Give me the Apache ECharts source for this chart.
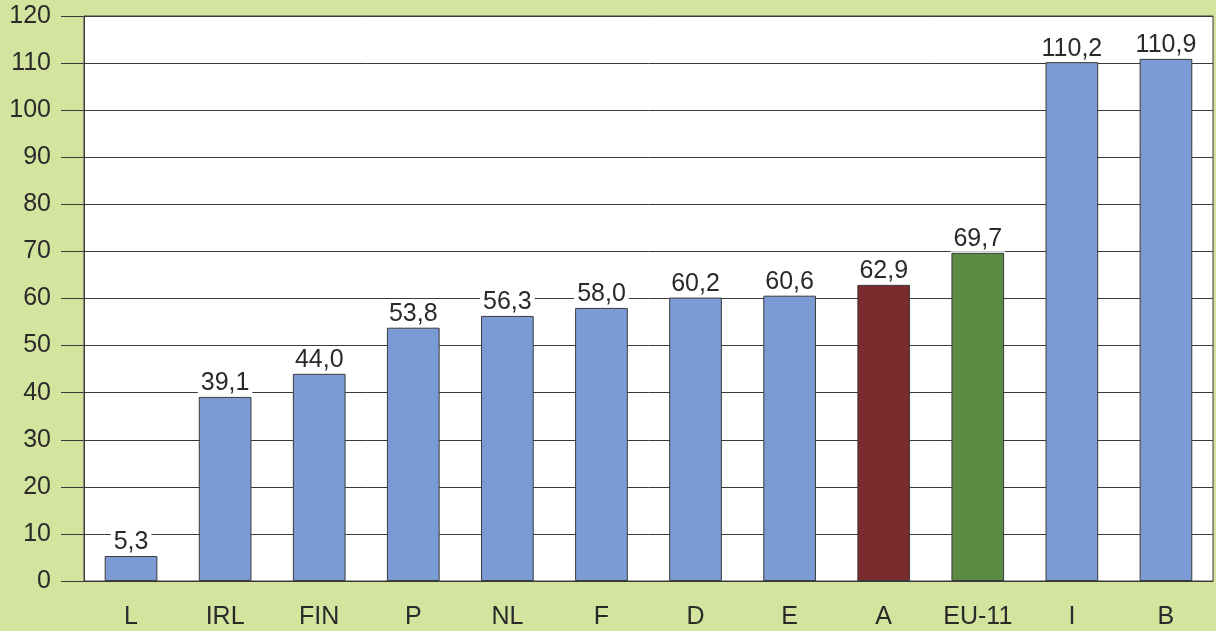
<!DOCTYPE html>
<html>
<head>
<meta charset="utf-8">
<script src="https://cdn.jsdelivr.net/npm/echarts@6/dist/echarts.min.js"></script>
<style>
  html, body { margin: 0; padding: 0; background: #d4e39e; }
  #chart { width: 1216px; height: 631px; }
</style>
</head>
<body>
<div id="chart"></div>
<script>
// Country codes along the x axis
const categories = ['L', 'IRL', 'FIN', 'P', 'NL', 'F', 'D', 'E', 'A', 'EU-11', 'I', 'B'];
// Values per country
const values = [5.3, 39.1, 44.0, 53.8, 56.3, 58.0, 60.2, 60.6, 62.9, 69.7, 110.2, 110.9];
// Bar fill per country (Austria and EU average highlighted)
const barColors = ['#7b9bd4', '#7b9bd4', '#7b9bd4', '#7b9bd4', '#7b9bd4', '#7b9bd4',
                   '#7b9bd4', '#7b9bd4', '#7a2b2e', '#5b8b42', '#7b9bd4', '#7b9bd4'];

const chart = echarts.init(document.getElementById('chart'), null, { renderer: 'canvas' });

const fmt = v => v.toFixed(1).replace('.', ',');
const font = 'Liberation Sans, Arial, sans-serif';

chart.setOption({
  backgroundColor: '#d4e39e',
  animation: false,
  grid: {
    left: 84, right: 3, top: 16, bottom: 50,
    show: true, backgroundColor: '#ffffff', borderColor: '#3a3a3a', borderWidth: 1
  },
  xAxis: {
    type: 'category',
    data: categories,
    axisLine: { lineStyle: { color: '#3a3a3a', width: 1 } },
    axisTick: { show: false },
    axisLabel: { color: '#2a2a2a', fontSize: 25, fontFamily: font, margin: 24 }
  },
  yAxis: {
    type: 'value',
    min: 0, max: 120, interval: 10,
    axisLine: { show: true, lineStyle: { color: '#3a3a3a', width: 1 } },
    axisTick: { show: true, length: 23, lineStyle: { color: '#3a3a3a', width: 1 } },
    axisLabel: { color: '#2a2a2a', fontSize: 25, fontFamily: font, margin: 33 },
    splitLine: { show: true, lineStyle: { color: '#3a3a3a', width: 1 } }
  },
  series: [{
    type: 'bar',
    barWidth: '56%',
    data: values.map((v, i) => ({
      value: v,
      itemStyle: { color: barColors[i], borderColor: '#3a3a3a', borderWidth: 1 }
    })),
    label: {
      show: true,
      position: 'top',
      distance: 1,
      formatter: p => fmt(p.value),
      color: '#2a2a2a',
      fontSize: 25,
      fontFamily: font,
      backgroundColor: '#ffffff',
      padding: [0, 3, 0, 3]
    }
  }]
});
</script>
</body>
</html>
